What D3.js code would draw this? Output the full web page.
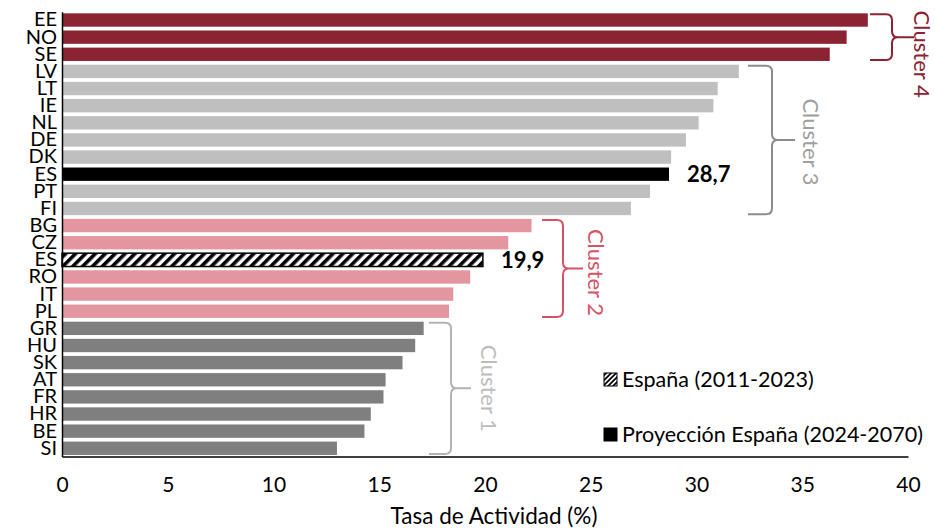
<!DOCTYPE html>
<html>
<head>
<meta charset="utf-8">
<script src="https://cdnjs.cloudflare.com/ajax/libs/d3/7.8.5/d3.min.js"></script>
<style>
  body { margin: 0; background: #fff; }
  text { font-family: "Lato", "Open Sans", sans-serif; }
</style>
</head>
<body>
<svg width="935" height="531"></svg>
<script>
var countries = ["EE","NO","SE","LV","LT","IE","NL","DE","DK","ES","PT","FI","BG","CZ","ES","RO","IT","PL","GR","HU","SK","AT","FR","HR","BE","SI"]
var values = [38.1,37.1,36.3,32.0,31.0,30.8,30.1,29.5,28.8,28.7,27.8,26.9,22.2,21.1,19.9,19.3,18.5,18.3,17.1,16.7,16.1,15.3,15.2,14.6,14.3,13.0]
var groups = ["c4","c4","c4","c3","c3","c3","c3","c3","c3","proj","c3","c3","c2","c2","hist","c2","c2","c2","c1","c1","c1","c1","c1","c1","c1","c1"]
var xTicks = [0,5,10,15,20,25,30,35,40]
var clusters = [
  {name: "Cluster 4", from: 0, to: 2},
  {name: "Cluster 3", from: 3, to: 11},
  {name: "Cluster 2", from: 12, to: 17},
  {name: "Cluster 1", from: 18, to: 25}
]
var legendItems = ["España (2011-2023)", "Proyección España (2024-2070)"]

var svg = d3.select("svg"),
    width = +svg.attr("width"),
    height = +svg.attr("height")

var margin = {left: 62, right: 27, top: 11.8, bottom: 74.5}

var x = d3.scaleLinear().domain([0, 40]).range([margin.left, width - margin.right])
var y = d3.scaleBand().domain(d3.range(countries.length))
  .range([margin.top, height - margin.bottom])
  .paddingInner(0.22).paddingOuter(0.09)

var fills = {c4: "#8B2332", c3: "#BFBFBF", c2: "#E3969F", c1: "#7F7F7F", proj: "#000", hist: "url(#hatch)"}
var bracketColors = {"Cluster 4": "#8B2332", "Cluster 3": "#8C8C8C", "Cluster 2": "#D65366", "Cluster 1": "#B3B3B3"}
var textColors = {"Cluster 4": "#8B2332", "Cluster 3": "#A0A0A0", "Cluster 2": "#D65366", "Cluster 1": "#BDBDBD"}

// hatch pattern for historic ES bar
var defs = svg.append("defs")
var pat = defs.append("pattern").attr("id", "hatch")
  .attr("patternUnits", "userSpaceOnUse")
  .attr("width", 7).attr("height", 7)
  .attr("patternTransform", "rotate(45)")
pat.append("rect").attr("width", 7).attr("height", 7).attr("fill", "#fff")
pat.append("rect").attr("width", 3.6).attr("height", 7).attr("fill", "#000")

var pat2 = defs.append("pattern").attr("id", "hatchSmall")
  .attr("patternUnits", "userSpaceOnUse")
  .attr("width", 3.5).attr("height", 3.5)
  .attr("patternTransform", "rotate(45)")
pat2.append("rect").attr("width", 3.5).attr("height", 3.5).attr("fill", "#fff")
pat2.append("rect").attr("width", 1.8).attr("height", 3.5).attr("fill", "#000")

// bars
svg.append("g").selectAll("rect")
  .data(values)
  .enter().append("rect")
    .attr("x", x(0))
    .attr("y", function(d, i) { return y(i) })
    .attr("width", function(d) { return x(d) - x(0) })
    .attr("height", y.bandwidth())
    .attr("fill", function(d, i) { return fills[groups[i]] })
    .attr("stroke", function(d, i) { return groups[i] == "hist" ? "#000" : "none" })
    .attr("stroke-width", 1.5)

// value labels for Spain
svg.append("g").selectAll("text")
  .data(values.map(function(v, i) { return {v: v, i: i} }).filter(function(d) { return groups[d.i] == "proj" || groups[d.i] == "hist" }))
  .enter().append("text")
    .attr("x", function(d) { return x(d.v) + 18 })
    .attr("y", function(d) { return y(d.i) + y.bandwidth() / 2 })
    .attr("dy", "0.36em")
    .style("font-size", "22px")
    .style("font-weight", "bold")
    .text(function(d) { return d3.format(".1f")(d.v).replace(".", ",") })

// axes
var xAxis = svg.append("g")
  .attr("transform", "translate(0," + (height - margin.bottom) + ")")
  .call(d3.axisBottom(x).tickValues(xTicks).tickSize(0).tickPadding(21))
xAxis.select(".domain").attr("stroke", "#000").attr("stroke-width", 1.5)
xAxis.selectAll("text").style("font-size", "21px").style("font-family", "Lato, sans-serif").attr("fill", "#000")

var yAxis = svg.append("g")
  .attr("transform", "translate(" + margin.left + ",0)")
  .call(d3.axisLeft(y).tickSize(0).tickPadding(5).tickFormat(function(i) { return countries[i] }))
yAxis.select(".domain").attr("stroke", "#000").attr("stroke-width", 1.5)
yAxis.selectAll("text").style("font-size", "20px").style("font-family", "Lato, sans-serif").attr("fill", "#000")

svg.append("text")
  .attr("x", x(20) + 9)
  .attr("y", height - 7)
  .attr("text-anchor", "middle")
  .style("font-size", "22.5px")
  .text("Tasa de Actividad (%)")

// curly brackets
var bracketX = [870, 748, 542, 429]
var bracketW = [22, 24, 21, 22]
var tipW = [22, 23, 20, 20]
var labelDx = [8, 16, 13, 18]
var labelDy = [17, 2, 4, 0]
clusters.forEach(function(c, k) {
  var y0 = y(c.from) + 1, y1 = y(c.to) + y.bandwidth() - 1
  var ym = (y0 + y1) / 2
  var x0 = bracketX[k], xv = x0 + bracketW[k], xt = xv + tipW[k]
  var r = 6
  var p = "M" + x0 + "," + y0 +
    " L" + (xv - r) + "," + y0 +
    " Q" + xv + "," + y0 + " " + xv + "," + (y0 + r) +
    " L" + xv + "," + (ym - r) +
    " Q" + xv + "," + ym + " " + (xv + r) + "," + ym +
    " L" + xt + "," + ym +
    " M" + (xv + r) + "," + ym +
    " Q" + xv + "," + ym + " " + xv + "," + (ym + r) +
    " L" + xv + "," + (y1 - r) +
    " Q" + xv + "," + y1 + " " + (xv - r) + "," + y1 +
    " L" + x0 + "," + y1
  svg.append("path").attr("d", p)
    .attr("fill", "none")
    .attr("stroke", bracketColors[c.name])
    .attr("stroke-width", 2)
  svg.append("text")
    .attr("transform", "translate(" + (xt + labelDx[k]) + "," + (ym + labelDy[k]) + ") rotate(90)")
    .attr("text-anchor", "middle")
    .attr("dy", "0.35em")
    .style("font-size", "22px")
    .attr("fill", textColors[c.name])
    .text(c.name)
})

// legend
var legend = svg.append("g").selectAll("g")
  .data(legendItems)
  .enter().append("g")
    .attr("transform", function(d, i) { return "translate(604," + (379 + i * 55) + ")" })
legend.append("rect")
  .attr("x", 0).attr("y", -6).attr("width", 13).attr("height", 13)
  .attr("fill", function(d, i) { return i == 0 ? "url(#hatchSmall)" : "#000" })
  .attr("stroke", "#000").attr("stroke-width", 1)
legend.append("text")
  .attr("x", 18).attr("dy", "0.35em")
  .style("font-size", "21.5px")
  .text(function(d) { return d })
</script>
</body>
</html>
